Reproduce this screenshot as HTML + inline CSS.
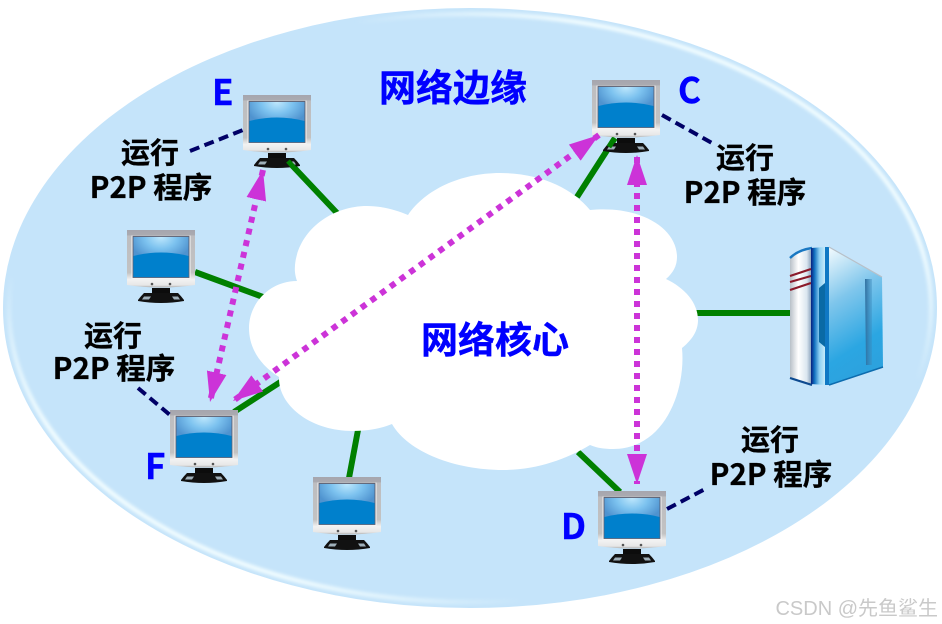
<!DOCTYPE html>
<html><head><meta charset="utf-8">
<style>
html,body{margin:0;padding:0;background:#fff;width:942px;height:624px;overflow:hidden}
svg{display:block}
text{font-family:"Noto Sans CJK SC","Liberation Sans",sans-serif}
.b{font-weight:700;fill:#0000ff;stroke:#0000ff;stroke-width:.4}
.k{font-weight:700;fill:#000;stroke:#000;stroke-width:.3;font-size:29px;text-anchor:middle}
.p{font-size:29.5px}
</style></head><body>
<svg width="942" height="624" viewBox="0 0 942 624" xmlns="http://www.w3.org/2000/svg">
<defs>
<linearGradient id="hl" x1="0" y1="1" x2="1" y2="0">
<stop offset="0" stop-color="#f2fdff" stop-opacity=".95"/><stop offset=".17" stop-color="#f2fdff" stop-opacity=".95"/>
<stop offset=".28" stop-color="#f2fdff" stop-opacity="0"/><stop offset=".68" stop-color="#f2fdff" stop-opacity="0"/>
<stop offset=".8" stop-color="#f2fdff" stop-opacity=".95"/><stop offset="1" stop-color="#f2fdff" stop-opacity=".95"/>
</linearGradient>
<filter id="bl" x="-5%" y="-5%" width="110%" height="110%"><feGaussianBlur stdDeviation="1.5"/></filter>
<linearGradient id="bez" x1="0" y1="0" x2="0" y2="1"><stop offset="0" stop-color="#a6a6ae"/><stop offset=".09" stop-color="#aaaab0"/><stop offset=".1" stop-color="#bdbdc0"/><stop offset=".74" stop-color="#c2c2c2"/><stop offset=".86" stop-color="#f2f2f2"/><stop offset=".96" stop-color="#e6e6e6"/><stop offset="1" stop-color="#aaaaaa"/></linearGradient>
<radialGradient id="scr" gradientUnits="userSpaceOnUse" cx="34" cy="7" r="32" gradientTransform="translate(34 7) scale(1 .75) translate(-34 -7)"><stop offset="0" stop-color="#bfe8fd"/><stop offset=".5" stop-color="#7cc2ef"/><stop offset="1" stop-color="#4f93cf"/></radialGradient>
<linearGradient id="s1" x1="0" y1="0" x2="1" y2="0"><stop offset="0" stop-color="#b8c0c8"/><stop offset=".4" stop-color="#ffffff"/><stop offset=".8" stop-color="#dbe6ef"/><stop offset="1" stop-color="#8fa6bf"/></linearGradient>
<linearGradient id="s2" x1="0" y1="0" x2="1" y2="0"><stop offset="0" stop-color="#08207e"/><stop offset=".25" stop-color="#1070c0"/><stop offset=".6" stop-color="#8ed0f2"/><stop offset="1" stop-color="#c6eafa"/></linearGradient>
<linearGradient id="s3" x1="0" y1="0" x2=".25" y2="1"><stop offset="0" stop-color="#f4fbfe"/><stop offset=".4" stop-color="#7fc6ec"/><stop offset=".8" stop-color="#2ba6e2"/><stop offset="1" stop-color="#2ca2de"/></linearGradient>
<linearGradient id="s4" x1="0" y1="0" x2="1" y2="0"><stop offset="0" stop-color="#2f6f9f"/><stop offset="1" stop-color="#3a88bb" stop-opacity=".35"/></linearGradient>
<marker id="ah" markerUnits="userSpaceOnUse" markerWidth="32" markerHeight="22" refX="30" refY="10" orient="auto-start-reverse"><path d="M0,0L30,10L0,20Z" fill="#cc33d8"/></marker>
<g id="mon">
<path d="M0,0H68V55Q34,60 0,55Z" fill="url(#bez)"/>
<path d="M4.5,5.5H5.5V47.5H62.5V5.5H63.5V49H4.5Z" fill="#f4f4f4"/>
<rect x="6" y="6.5" width="56" height="41" fill="url(#scr)" stroke="#556" stroke-width=".8"/>
<path d="M6.4,26Q34,19 61.6,26V47.1H6.4Z" fill="#0080cc"/>
<circle cx="25" cy="54" r="1.3" fill="#555"/><circle cx="43" cy="54" r="1.3" fill="#555"/>
<path d="M25,58H43L43,64H25Z" fill="#0c0c0c"/>
<path d="M17,63H51Q54,66 57,70V71Q34,75 11,71V70Q14,66 17,63Z" fill="#111"/>
<path d="M17,66.5H24L22,69.5H15ZM45,66.5H51L53,69.5H47Z" fill="#9fb0ba"/>
</g>
</defs>

<ellipse cx="470" cy="308" rx="467" ry="300" fill="#c5e4fa"/>
<ellipse cx="470" cy="308" rx="461" ry="294" fill="none" stroke="url(#hl)" stroke-width="4.5" filter="url(#bl)"/>

<g stroke="#008000" stroke-width="6" fill="none">
<line x1="287" y1="160" x2="337" y2="213"/>
<line x1="195" y1="272" x2="263" y2="297"/>
<line x1="234" y1="412" x2="282" y2="381"/>
<line x1="349" y1="478" x2="358" y2="430"/>
<line x1="620" y1="492" x2="578" y2="452"/>
<line x1="577" y1="197" x2="615" y2="138"/>
<line x1="696" y1="313" x2="791" y2="313"/>
</g>

<path d="M408,215C425,190 460,173 500,173C540,173 572,188 590,210C640,205 677,228 677,257C677,266 673,273 666,279C685,288 698,303 698,320C698,331 692,340 682,348C686,390 665,449 613,449C604,449 597,448 590,445C565,460 535,470 503,470C455,470 408,452 392,424C380,429 366,431 353,431C310,431 278,405 279,377C260,365 249,348 249,328C249,303 270,281 297,281C294,272 295,268 295,265C298,232 330,206 367,206C382,206 396,210 408,215Z" fill="#fff"/>

<use href="#mon" x="243" y="95"/>
<use href="#mon" x="127" y="230"/>
<use href="#mon" x="170" y="410"/>
<use href="#mon" x="313" y="477"/>
<use href="#mon" x="598" y="491"/>
<use href="#mon" x="592" y="80"/>

<g stroke="#008000" stroke-width="5" fill="none">
<line x1="288" y1="161" x2="296" y2="170"/>
<line x1="609" y1="147" x2="614" y2="139"/>
</g>

<g stroke="#000066" stroke-width="4" stroke-dasharray="10,5.5" fill="none">
<line x1="190" y1="151" x2="243" y2="130"/>
<line x1="662" y1="115" x2="712" y2="143"/>
<line x1="138" y1="388" x2="170" y2="415"/>
<line x1="667" y1="509" x2="707" y2="488"/>
</g>

<g>
<path d="M790,258Q798,250 811,250V384L790,378Z" fill="url(#s1)"/>
<path d="M790,258Q798,250 812,248" fill="none" stroke="#1a78c2" stroke-width="2.4"/>
<path d="M790,378L812,385" stroke="#0d4a90" stroke-width="2.2"/>
<path d="M790,276L811,269M790,282L811,276M790,290L811,283" stroke="#8b1a2a" stroke-width="2.2"/>
<path d="M811,248L825,247V385L811,384Z" fill="url(#s2)"/>
<path d="M819,288L825,283V347L819,342Z" fill="#0a6aa5"/>
<path d="M825,247H829V385H825Z" fill="#0f78c4"/>
<path d="M829,247L882,277L883,367L829,385Z" fill="url(#s3)"/>
<path d="M829,247L882,277" stroke="#b8c0c8" stroke-width="1.2" fill="none"/>
<path d="M829,385L883,367" stroke="#0d6cae" stroke-width="1.5" fill="none"/>
<path d="M865,279H872V365H866Z" fill="url(#s4)"/>
</g>

<g stroke="#cc33d8" stroke-width="6" stroke-dasharray="6,6" fill="none">
<line x1="263" y1="170" x2="210" y2="402" marker-start="url(#ah)" marker-end="url(#ah)"/>
<line x1="599" y1="135" x2="233" y2="401" marker-start="url(#ah)" marker-end="url(#ah)"/>
<line x1="637" y1="155" x2="637" y2="484" stroke-dashoffset="-2" marker-start="url(#ah)" marker-end="url(#ah)"/>
</g>

<text class="b" x="379" y="101" font-size="37">网络边缘</text>
<text class="b" x="421" y="353" font-size="37">网络核心</text>
<text class="b" x="212" y="105" font-size="35">E</text>
<text class="b" x="678" y="103" font-size="35">C</text>
<text class="b" x="145" y="479" font-size="35">F</text>
<text class="b" x="561" y="539" font-size="35">D</text>

<text class="k" x="150" y="163">运行</text><text class="k p" x="151" y="198">P2P 程序</text>
<text class="k" x="745" y="168">运行</text><text class="k p" x="745" y="203">P2P 程序</text>
<text class="k" x="113" y="346">运行</text><text class="k p" x="114" y="379">P2P 程序</text>
<text class="k" x="770" y="450">运行</text><text class="k p" x="771" y="485">P2P 程序</text>

<text x="938" y="615" text-anchor="end" font-size="20" fill="#c9c9c9" style="font-family:'Liberation Sans','Noto Sans CJK SC',sans-serif">CSDN @先鱼鲨生</text>
</svg>
</body></html>
